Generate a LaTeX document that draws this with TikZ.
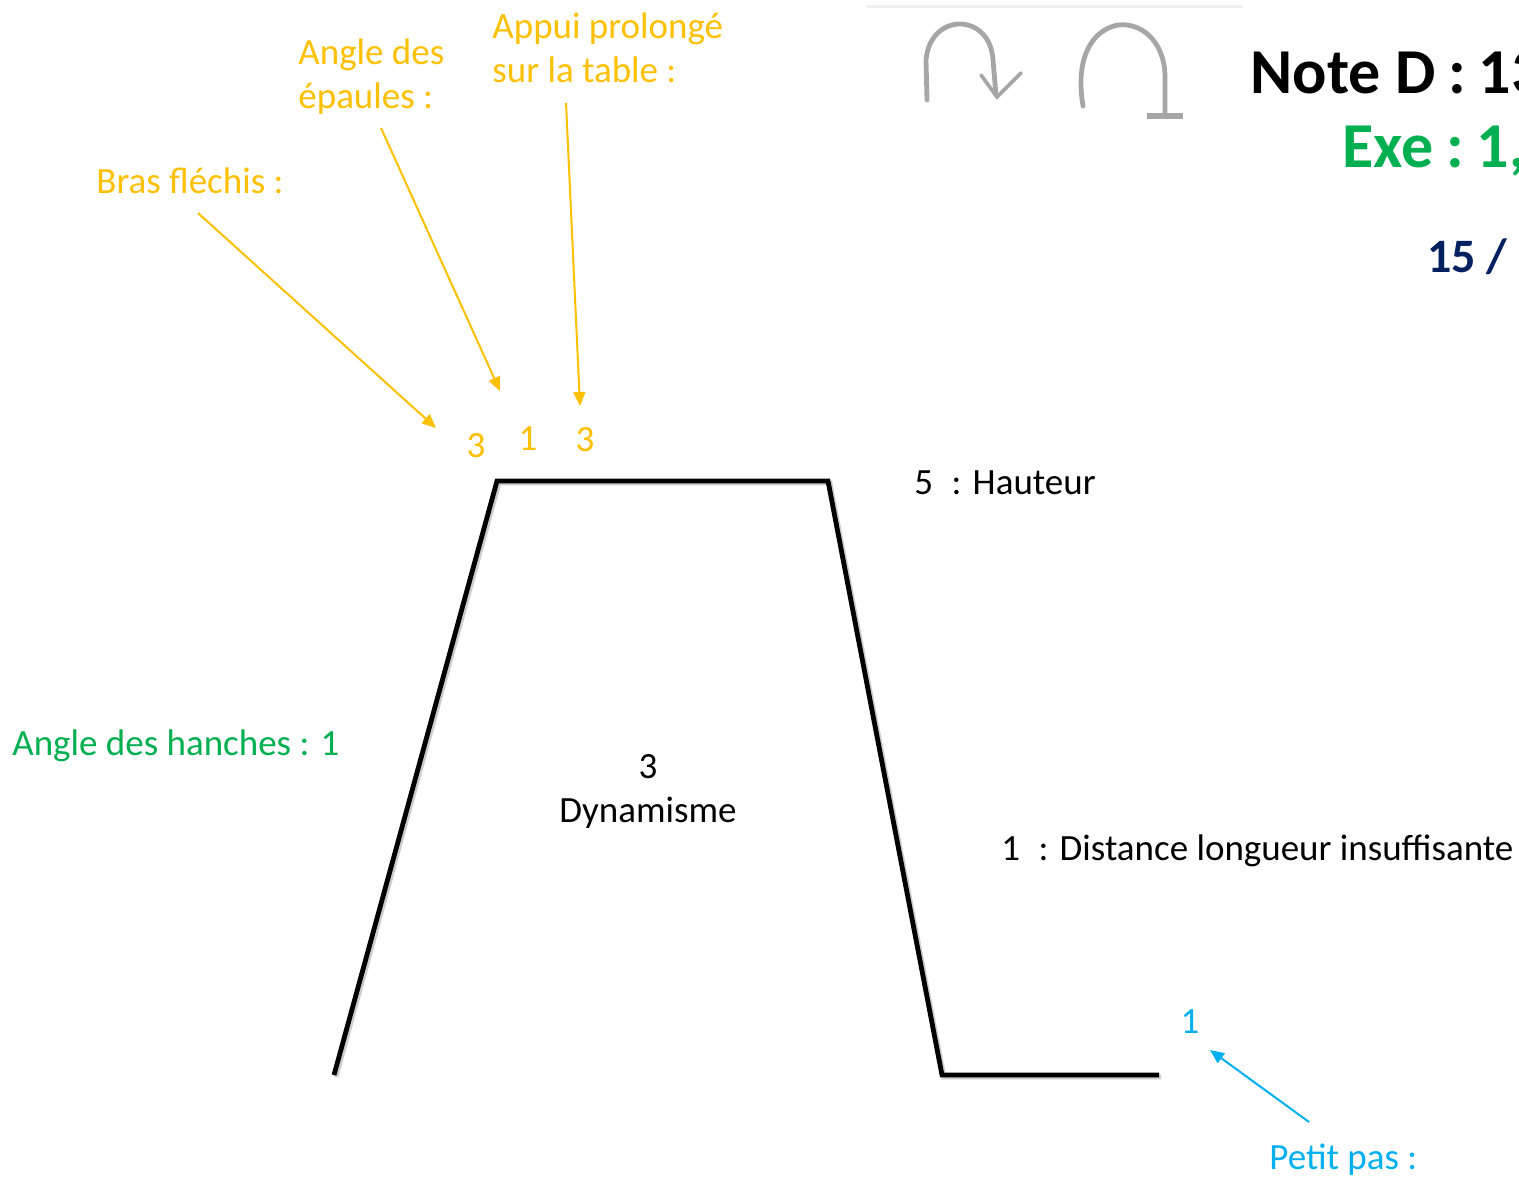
\documentclass[tikz,border=0pt]{standalone}
\usepackage{fontspec}
\setmainfont{Carlito}
\usetikzlibrary{arrows.meta}
\definecolor{gold}{HTML}{FFC000}
\definecolor{vert}{HTML}{00B050}
\definecolor{bleu}{HTML}{00B0F0}
\definecolor{marine}{HTML}{002060}

\begin{document}
\begin{tikzpicture}[x=0.5pt,y=-0.5pt,
  lbl/.style={anchor=base west, inner sep=0pt, align=left, font=\fontsize{18.5}{22}\selectfont},
  num/.style={anchor=base, inner sep=0pt, font=\fontsize{18.5}{22}\selectfont},
  big/.style={anchor=base west, inner sep=0pt, font=\fontsize{32}{38}\selectfont\bfseries},
  callout/.style={-{Triangle[length=7pt,width=6pt]}, line width=1pt},
  icon/.style={gray!70, line width=2.4pt, line cap=round}]
\clip (0,0) rectangle (1519,1189);
\fill[white] (0,0) rectangle (1519,1189);

% the vault profile
\draw[black!20, line width=2.4pt, shift={(2,2)}] (334,1075) -- (497,481) -- (828,481) -- (942,1075) -- (1159,1075);
\draw[line width=2.4pt] (334,1075) -- (497,481) -- (828,481) -- (942,1075) -- (1159,1075);

% icons at the top
\draw[gray!12, line width=1.5pt] (867,6) -- (1243,6);
\draw[icon] (927,100) -- (926,60) .. controls (930,12) and (990,12) .. (993,60) -- (996,95);
\draw[icon, line width=1.8pt] (981,75) -- (997,97) -- (1021,73);
\draw[icon] (1083,106) .. controls (1072,40) and (1108,22) .. (1127,25) .. controls (1150,28) and (1166,50) .. (1165,80) -- (1165,113);
\draw[icon, line width=3pt, line cap=butt] (1147,116) -- (1183,116);

% scores
\node[big] (noteD) at (1250,93) {Note D\hspace{0.2em}:\hspace{0.2em}13};
\node[big, text=vert] (exe) at (1342,167) {Exe\hspace{0.2em}:\hspace{0.2em}1,};
\node[big, text=marine, font=\fontsize{24}{28}\selectfont\bfseries] (total) at (1427,272) {15 /};

% gold labels
\node[lbl, text=gold] (bras) at (96,193) {Bras fléchis :};
\node[lbl, text=gold] (epaules) at (298,108) {Angle des\\épaules :};
\node[lbl, text=gold] (appui) at (492,82) {Appui prolongé\\sur la table :};
\foreach \x/\y/\v/\n in {476/457/3/Bras, 528/450/1/Epaules, 585/451/3/Appui}{
  \node[num, text=gold] (n\n) at (\x,\y) {\v};}
\coordinate (tBras) at (198,213);   \coordinate (hBras) at (436,428);
\coordinate (tEpaules) at (381,128); \coordinate (hEpaules) at (500,391);
\coordinate (tAppui) at (566,103);  \coordinate (hAppui) at (580,406);
\foreach \n in {Bras, Epaules, Appui}{
  \draw[callout, gold] (t\n) -- (h\n);}

% black labels
\node[lbl] (hauteur) at (914,494) {5\hspace{0.5em}: Hauteur};
\node[num, align=center] (dyn) at (648,822) {3\\Dynamisme};
\node[lbl] (distance) at (1001,860) {1\hspace{0.5em}: Distance longueur insuffisante};
\node[lbl, text=vert] (hanches) at (12,755) {Angle des hanches : 1};

% blue label
\node[num, text=bleu] (nPas) at (1190,1033) {1};
\node[lbl, text=bleu] (pas) at (1269,1169) {Petit pas :};
\coordinate (tPas) at (1309,1122); \coordinate (hPas) at (1210,1050);
\draw[callout, bleu] (tPas) -- (hPas);
\end{tikzpicture}
\end{document}
